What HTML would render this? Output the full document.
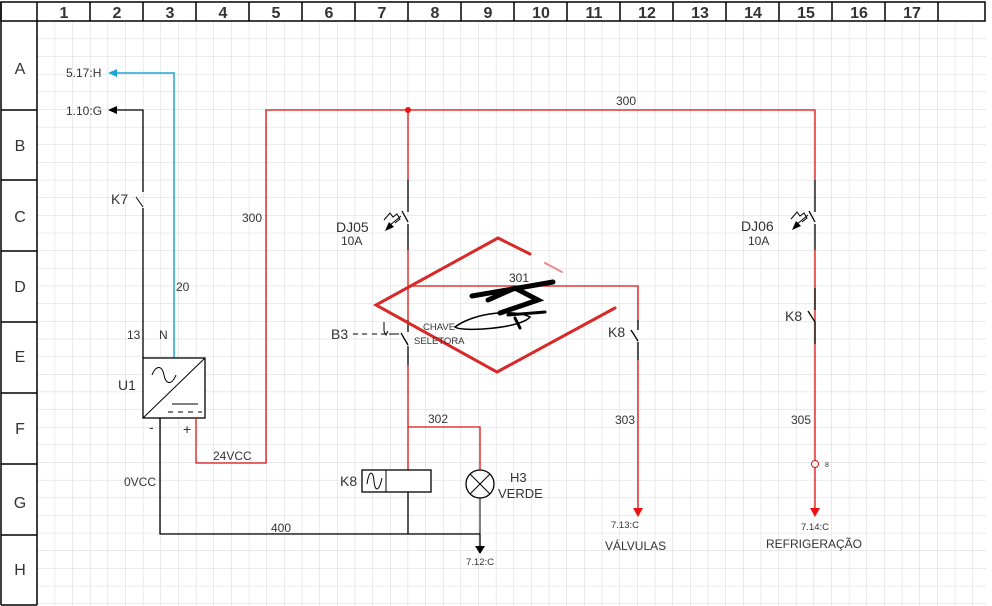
<!DOCTYPE html>
<html><head><meta charset="utf-8"><style>
html,body{margin:0;padding:0;background:#fff}
svg{display:block}
text{font-family:"Liberation Sans",sans-serif;fill:#333}
</style></head><body>
<svg width="992" height="606" viewBox="0 0 992 606" xmlns="http://www.w3.org/2000/svg">
<defs>
<pattern id="g" x="37" y="21" width="17.65" height="17.65" patternUnits="userSpaceOnUse">
<path d="M0 0H17.65M0 0V17.65" stroke="#d6d6d6" stroke-width="1" fill="none"/>
</pattern>
</defs>
<rect x="37" y="21" width="949" height="585" fill="url(#g)"/>
<g stroke="#000" stroke-width="1.5" fill="none">
<rect x="1" y="2" width="984" height="19"/>
<line x1="1" y1="2" x2="1" y2="605"/>
<line x1="37" y1="2" x2="37" y2="605"/>
<line x1="1" y1="605" x2="37" y2="605"/>
<line x1="1" y1="110" x2="37" y2="110"/>
<line x1="1" y1="180" x2="37" y2="180"/>
<line x1="1" y1="251" x2="37" y2="251"/>
<line x1="1" y1="322" x2="37" y2="322"/>
<line x1="1" y1="393" x2="37" y2="393"/>
<line x1="1" y1="464" x2="37" y2="464"/>
<line x1="1" y1="535" x2="37" y2="535"/>
<line x1="90" y1="2" x2="90" y2="21"/><line x1="143" y1="2" x2="143" y2="21"/><line x1="196" y1="2" x2="196" y2="21"/><line x1="249" y1="2" x2="249" y2="21"/><line x1="302" y1="2" x2="302" y2="21"/><line x1="355" y1="2" x2="355" y2="21"/><line x1="408" y1="2" x2="408" y2="21"/><line x1="461" y1="2" x2="461" y2="21"/><line x1="514" y1="2" x2="514" y2="21"/><line x1="567" y1="2" x2="567" y2="21"/><line x1="620" y1="2" x2="620" y2="21"/><line x1="673" y1="2" x2="673" y2="21"/><line x1="726" y1="2" x2="726" y2="21"/><line x1="779" y1="2" x2="779" y2="21"/><line x1="832" y1="2" x2="832" y2="21"/><line x1="885" y1="2" x2="885" y2="21"/><line x1="938" y1="2" x2="938" y2="21"/>
</g>
<g font-size="16" font-weight="bold" text-anchor="middle">
<text x="64" y="18">1</text><text x="117" y="18">2</text><text x="170" y="18">3</text><text x="223" y="18">4</text><text x="276" y="18">5</text><text x="329" y="18">6</text><text x="382" y="18">7</text><text x="435" y="18">8</text><text x="488" y="18">9</text><text x="541" y="18">10</text><text x="594" y="18">11</text><text x="647" y="18">12</text><text x="700" y="18">13</text><text x="753" y="18">14</text><text x="806" y="18">15</text><text x="859" y="18">16</text><text x="912" y="18">17</text>
</g>
<g font-size="16" text-anchor="middle">
<text x="20" y="74">A</text><text x="20" y="151">B</text><text x="20" y="222">C</text><text x="20" y="292">D</text><text x="20" y="362">E</text><text x="20" y="434">F</text><text x="20" y="508">G</text><text x="20" y="575">H</text>
</g>
<path d="M174 358V73H116" stroke="#1ba7d6" stroke-width="1.5" fill="none"/>
<path d="M108 73l9-4v8z" fill="#1ba7d6"/>
<path d="M143 358V208M143 192V110H116" stroke="#000" stroke-width="1.3" fill="none"/>
<path d="M136 197l7 10" stroke="#000" stroke-width="1"/>
<path d="M108 110l9-4v8z" fill="#000"/>
<rect x="143" y="358" width="62" height="60" fill="#fff" stroke="#000" stroke-width="1.3"/>
<path d="M143 418L205 358" stroke="#000"/>
<path d="M152 375c4-10 10-10 12 0s8 10 12 0" stroke="#000" fill="none"/>
<path d="M172 404h26M168 412h5M178 412h5M188 412h5M198 412h4" stroke="#000"/>
<path d="M160 418V534H480M408 492V534" stroke="#000" stroke-width="1.3" fill="none"/>
<path d="M480 534V546" stroke="#000" stroke-width="1.3"/>
<path d="M475 546h10l-5 8z" fill="#000"/>
<g stroke="#d11" stroke-width="1.3" fill="none">
<path d="M196 418V463H266V110H815V180"/>
<path d="M815 250V510"/>
<path d="M408 110V180M408 250V320M408 365V470"/>
<path d="M408 427H480V470"/>
<path d="M408 286H638V320M638 360V510"/>
</g>
<circle cx="408" cy="110" r="3" fill="#e11"/>
<path d="M633 508h10l-5 9z" fill="#e11"/>
<path d="M810 508h10l-5 9z" fill="#e11"/>
<g stroke="#000" stroke-width="1.3" fill="none">
<path d="M408 180V212M408 224V250"/>
<path d="M402 211l6 11"/>
<path d="M815 180V212M815 224V250"/>
<path d="M809 211l6 11"/>
<path d="M408 320V332M408 346V365"/>
<path d="M401 333l7 12"/>
<path d="M638 320V330M638 342V360"/>
<path d="M631 330l7 11"/>
<path d="M815 288V310M815 322V344"/>
<path d="M808 311l7 11"/>
</g>
<g stroke="#000" stroke-width="1" fill="none">
<path d="M384 220l6-7 3 4 4-3 3 5-5 4"/>
<path d="M401 216l-12 10"/>
<path d="M791 219l6-7 3 4 4-3 3 5-5 4"/>
<path d="M808 215l-12 10"/>
</g>
<path d="M385 231l4-9 5 5z" fill="#000"/>
<path d="M792 230l4-9 5 5z" fill="#000"/>
<path d="M353 334h5M362 334h5M372 334h5M381 334h5M389 334h10" stroke="#000"/>
<path d="M384 322V331l2 4 2-4" stroke="#000" fill="none"/>
<rect x="362" y="470" width="69" height="22" fill="#fff" stroke="#000" stroke-width="1.3"/>
<path d="M386 470V492M367 484c2-14 6-14 7-3s5 11 8-3" stroke="#000" fill="none"/>
<circle cx="480" cy="484" r="14" fill="#fff" stroke="#000" stroke-width="1.3"/>
<path d="M470 474l20 20M490 474l-20 20M480 498V534" stroke="#000"/>
<circle cx="815" cy="464" r="3.5" fill="#fff" stroke="#d11"/>
<g stroke="#d82828" stroke-width="3" fill="none" stroke-linecap="round">
<path d="M530 254L498 238L376 305L497 372L615 308"/>
<path d="M545 263L562 272" stroke="#e88" stroke-width="2"/>
</g>
<g stroke="#000" fill="none" stroke-linecap="round">
<path d="M472 296L553 282M488 300L515 288L538 300L500 313" stroke-width="5"/>
<path d="M508 315L545 312M515 318L520 328" stroke-width="3"/>
<path d="M455 327c20-15 60-18 75-10c-10 12-70 15-75 10z" stroke-width="1.5"/>
</g>
<g font-size="12">
<text x="66" y="77">5.17:H</text>
<text x="66" y="115">1.10:G</text>
<text x="616" y="105">300</text>
<text x="242" y="222">300</text>
<text x="176" y="291">20</text>
<text x="127" y="339">13</text>
<text x="159" y="339">N</text>
<text x="124" y="486">0VCC</text>
<text x="213" y="460">24VCC</text>
<text x="271" y="532">400</text>
<text x="341" y="245">10A</text>
<text x="748" y="245">10A</text>
<text x="509" y="282">301</text>
<text x="428" y="423">302</text>
<text x="615" y="424">303</text>
<text x="791" y="424">305</text>
<text x="510" y="482" font-size="13">H3</text>
<text x="498" y="498" font-size="13">VERDE</text>
<text x="605" y="550">VÁLVULAS</text>
<text x="766" y="548">REFRIGERAÇÃO</text>
</g>
<g font-size="14">
<text x="111" y="204">K7</text>
<text x="118" y="390">U1</text>
<text x="149" y="432">-</text>
<text x="183" y="434">+</text>
<text x="336" y="232">DJ05</text>
<text x="741" y="231">DJ06</text>
<text x="331" y="339">B3</text>
<text x="608" y="337">K8</text>
<text x="785" y="321">K8</text>
<text x="340" y="486">K8</text>
</g>
<g font-size="9.5">
<text x="423" y="330">CHAVE</text>
<text x="414" y="344">SELETORA</text>
<text x="466" y="565">7.12:C</text>
<text x="611" y="528">7.13:C</text>
<text x="801" y="530">7.14:C</text>
<text x="825" y="467" font-size="7">8</text>
</g>
</svg>
</body></html>
